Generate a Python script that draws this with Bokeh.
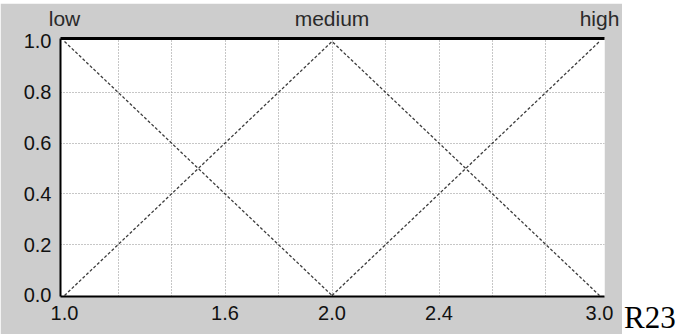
from bokeh.plotting import figure
from bokeh.models import Range1d, FixedTicker, LinearAxis, PrintfTickFormatter, Div
from bokeh.layouts import row
from bokeh.embed import file_html
from bokeh.resources import INLINE

# Triangular membership functions of the three linguistic terms
x_low = [1.0, 2.0]
mu_low = [1.0, 0.0]
x_medium = [1.0, 2.0, 3.0]
mu_medium = [0.0, 1.0, 0.0]
x_high = [2.0, 3.0]
mu_high = [0.0, 1.0]

term_names = ["low", "medium", "high"]
term_peaks = [1.0, 2.0, 3.0]

x_tick_values = [1.0, 1.6, 2.0, 2.4, 3.0]
x_grid_values = [1.2, 1.4, 1.6, 1.8, 2.0, 2.2, 2.4, 2.6, 2.8]
y_tick_values = [0.0, 0.2, 0.4, 0.6, 0.8, 1.0]
y_grid_values = [0.2, 0.4, 0.6, 0.8]

PANEL_GRAY = "#cdcdcd"
LINE_COLOR = "#3c3c3c"
TICK_FONT = "Liberation Sans"

TOP_MARGIN = 3

p = figure(
    width=622, height=334 - TOP_MARGIN,
    x_range=Range1d(0.985, 3.0187),
    y_range=Range1d(-0.004, 1.0118),
    output_backend="svg", toolbar_location=None,
    min_border_left=60, min_border_right=18,
    min_border_top=30, min_border_bottom=38,
    background_fill_color="white", border_fill_color=PANEL_GRAY,
    outline_line_color=None,
)
p.margin = (TOP_MARGIN, 0, 0, 0)

# value axes
for ax, ticks in ((p.xaxis[0], x_tick_values), (p.yaxis[0], y_tick_values)):
    ax.ticker = FixedTicker(ticks=ticks)
    ax.formatter = PrintfTickFormatter(format="%.1f")
    ax.axis_line_color = "black"
    ax.axis_line_width = 2
    ax.major_tick_line_color = None
    ax.minor_tick_line_color = None
    ax.major_tick_out = 0
    ax.major_tick_in = 0
    ax.major_label_text_font = TICK_FONT
    ax.major_label_text_font_size = "20px"
    ax.major_label_text_color = "#111111"
    ax.major_label_standoff = 9

# term names over each peak, on a heavy top rule
top_axis = LinearAxis(
    ticker=FixedTicker(ticks=term_peaks),
    major_label_overrides={pk: nm for pk, nm in zip(term_peaks, term_names)},
    axis_line_color="black", axis_line_width=3,
    major_tick_line_color=None, minor_tick_line_color=None,
    major_tick_out=0, major_tick_in=0,
    major_label_text_font=TICK_FONT, major_label_text_font_size="21px",
    major_label_text_color="#2a2a2a",
    major_label_text_baseline="alphabetic",
    major_label_standoff=9,
)
p.add_layout(top_axis, "above")

# dotted grid
p.xgrid[0].ticker = FixedTicker(ticks=x_grid_values)
p.ygrid[0].ticker = FixedTicker(ticks=y_grid_values)
for g in (p.xgrid[0], p.ygrid[0]):
    g.grid_line_color = "#8f8f8f"
    g.grid_line_dash = "1 2"
    g.grid_line_width = 1

# membership curves
for xs, ys in ((x_low, mu_low), (x_medium, mu_medium), (x_high, mu_high)):
    p.line(xs, ys, line_color=LINE_COLOR, line_width=1.3, line_dash="3 2")

# side caption
caption = Div(
    text="R23", width=56, height=334, margin=(0, 0, 0, 0),
    styles={
        "font-family": "'Liberation Serif', serif",
        "font-size": "31px",
        "line-height": "31px",
        "color": "black",
        "padding-top": "302px",
        "padding-left": "2px",
        "box-sizing": "border-box",
    },
)

layout = row(p, caption)
open("out.html", "w").write(file_html(layout, INLINE))
